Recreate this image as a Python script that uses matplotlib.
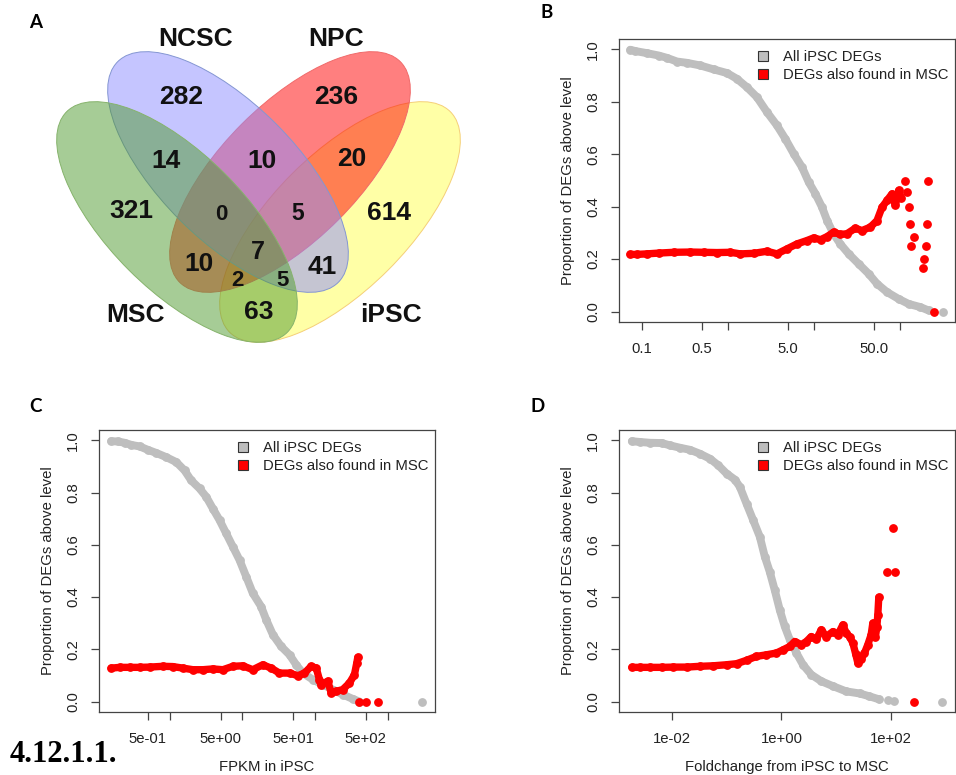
import matplotlib
matplotlib.use('Agg')
import matplotlib.pyplot as plt
from matplotlib.patches import Ellipse
from matplotlib.lines import Line2D
from matplotlib.colors import to_rgba
from matplotlib.ticker import FixedLocator, NullLocator

plt.rcParams['font.family'] = ['Liberation Sans', 'DejaVu Sans']

# ---- Panel A: Venn counts ----
set_names = ['NCSC', 'NPC', 'MSC', 'iPSC']
venn_counts = [282, 236, 14, 10, 20, 321, 0, 5, 614, 7, 10, 41, 2, 5, 63]

# ---- Panel B: (x values, proportion above level) ----
b_grey_x = [0.073, 0.0836, 0.114, 0.156, 0.195, 0.255, 0.333, 0.476, 0.681, 0.973, 1.27, 1.66,
            2.17, 2.84, 3.71, 4.64, 5.81, 7.25, 8.67, 10.4, 12.4, 14.2, 16.9, 20.2, 25.3, 33.0,
            43.2, 54.0, 70.7, 96.4, 126, 172, 215]
b_grey_y = [0.999, 0.994, 0.986, 0.977, 0.968, 0.954, 0.949, 0.939, 0.924, 0.910, 0.888, 0.856,
            0.818, 0.761, 0.710, 0.659, 0.602, 0.551, 0.494, 0.449, 0.398, 0.347, 0.296, 0.258,
            0.220, 0.182, 0.144, 0.106, 0.074, 0.048, 0.029, 0.017, 0.004]
b_grey_tail_x = [316]
b_grey_tail_y = [0.0]
b_red_x = [0.073, 0.0875, 0.114, 0.156, 0.233, 0.365, 0.521, 0.744, 1.06, 1.39, 1.99, 2.84,
           3.71, 4.85, 6.34, 8.29, 9.91, 11.9, 14.2, 16.9, 20.2, 24.2, 30.3, 36.1, 45.2, 54.0,
           61.8, 70.7, 80.7, 88.3, 96.4, 103]
b_red_y = [0.218, 0.218, 0.220, 0.223, 0.226, 0.227, 0.226, 0.225, 0.226, 0.220, 0.222, 0.230,
           0.220, 0.239, 0.258, 0.271, 0.281, 0.274, 0.286, 0.303, 0.294, 0.297, 0.318, 0.309,
           0.322, 0.347, 0.398, 0.424, 0.449, 0.405, 0.462, 0.435]
b_red_tail_x = [115, 121, 126, 132, 134, 144, 185, 192, 202, 206, 212, 246]
b_red_tail_y = [0.500, 0.455, 0.400, 0.335, 0.250, 0.286, 0.167, 0.200, 0.250, 0.335, 0.500, 0.0]

# ---- Panel C: FPKM in iPSC ----
c_grey_x = [0.156, 0.193, 0.239, 0.295, 0.384, 0.5, 0.652, 0.894, 1.23, 1.60, 1.97, 2.57, 3.18,
            3.92, 4.84, 5.98, 7.39, 9.13, 11.3, 13.9, 18.1, 21.3, 26.3, 34.2, 44.6, 55.0, 67.9,
            93.3, 128, 176, 241, 331, 409]
c_grey_y = [0.997, 0.996, 0.991, 0.983, 0.977, 0.964, 0.952, 0.936, 0.917, 0.885, 0.847, 0.816,
            0.784, 0.739, 0.695, 0.644, 0.593, 0.542, 0.478, 0.415, 0.364, 0.313, 0.256, 0.211,
            0.179, 0.141, 0.109, 0.084, 0.065, 0.046, 0.027, 0.010, 0.0]
c_grey_tail_x = [2980]
c_grey_tail_y = [0.0]
c_red_x = [0.156, 0.204, 0.280, 0.384, 0.527, 0.804, 1.10, 1.52, 2.08, 2.86, 3.92, 5.38, 7.39,
           10.1, 13.9, 19.1, 24.9, 32.4, 44.6, 58.0, 71.6, 88.5, 104, 115, 121, 150, 167, 195,
           241, 298, 349, 376, 388]
c_red_y = [0.128, 0.131, 0.131, 0.131, 0.132, 0.135, 0.134, 0.128, 0.122, 0.122, 0.125, 0.122,
           0.135, 0.137, 0.122, 0.141, 0.128, 0.109, 0.109, 0.099, 0.109, 0.135, 0.128, 0.084,
           0.065, 0.078, 0.033, 0.039, 0.046, 0.071, 0.103, 0.148, 0.169]
c_red_tail_x = [409, 505, 731]
c_red_tail_y = [0.0, 0.0, 0.0]

# ---- Panel D: foldchange from iPSC to MSC ----
d_grey_x = [0.00184, 0.00261, 0.00397, 0.00649, 0.0092, 0.0140, 0.0213, 0.0324, 0.0493, 0.0700,
            0.0993, 0.141, 0.174, 0.230, 0.304, 0.403, 0.497, 0.612, 0.755, 0.933, 1.15, 1.42,
            1.88, 2.48, 3.52, 5.36, 8.75, 15.3, 26.9, 40.8, 62.1]
d_grey_y = [0.997, 0.994, 0.991, 0.990, 0.981, 0.972, 0.964, 0.949, 0.930, 0.905, 0.873, 0.850,
            0.822, 0.758, 0.695, 0.631, 0.555, 0.497, 0.427, 0.351, 0.288, 0.237, 0.186, 0.141,
            0.103, 0.078, 0.059, 0.039, 0.031, 0.020, 0.008]
d_grey_tail_x = [88.1, 117, 863]
d_grey_tail_y = [0.005, 0.003, 0.0]
d_red_x = [0.00184, 0.00261, 0.00397, 0.00649, 0.0106, 0.0185, 0.0324, 0.0567, 0.0993, 0.151,
           0.230, 0.350, 0.532, 0.811, 1.07, 1.42, 1.75, 2.32, 2.86, 3.52, 4.35, 5.36, 6.62,
           8.75, 10.8, 13.3, 15.3, 17.6, 20.3, 22.7, 25.0, 28.8, 33.1, 38.1, 43.8, 47.0, 52.5,
           55.6, 58.0, 60.4]
d_red_y = [0.131, 0.131, 0.131, 0.131, 0.132, 0.132, 0.135, 0.137, 0.141, 0.145, 0.158, 0.173,
           0.179, 0.186, 0.198, 0.211, 0.230, 0.218, 0.230, 0.249, 0.238, 0.275, 0.249, 0.268,
           0.256, 0.294, 0.262, 0.249, 0.224, 0.184, 0.148, 0.163, 0.186, 0.218, 0.256, 0.300,
           0.249, 0.285, 0.332, 0.399]
d_red_tail_x = [85.7, 122, 109, 270]
d_red_tail_y = [0.497, 0.497, 0.665, 0.0]

legend_labels = ['All iPSC DEGs', 'DEGs also found in MSC']
y_ticks = [0.0, 0.2, 0.4, 0.6, 0.8, 1.0]

GREY = '#bebebe'
RED = '#ff0000'
FS = 10.7


def drawCurvePanel(ax, gx, gy, gtx, gty, rx, ry, rtx, rty, xlim, ticks, labels, xlabel):
    ms = 5.3
    ax.plot(gx, gy, color=GREY, lw=ms + 0.4, marker='o', ms=ms, solid_capstyle='round',
            solid_joinstyle='round')
    ax.plot(gtx, gty, color=GREY, ls='none', marker='o', ms=ms)
    ax.plot(rx, ry, color=RED, lw=ms, marker='o', ms=ms, solid_capstyle='round',
            solid_joinstyle='round')
    ax.plot(rtx, rty, color=RED, ls='none', marker='o', ms=ms)
    ax.set_xscale('log')
    ax.set_xlim(xlim)
    ax.set_ylim(-0.04, 1.04)
    ax.xaxis.set_major_locator(FixedLocator(ticks))
    ax.xaxis.set_minor_locator(NullLocator())
    ax.set_xticklabels(labels)
    ax.set_yticks(y_ticks)
    ax.set_yticklabels(['%.1f' % v for v in y_ticks], rotation=90, va='center')
    for s in ax.spines.values():
        s.set_color('#444444')
        s.set_linewidth(0.9)
    ax.tick_params(axis='both', length=5.5, width=0.9, color='#444444', labelsize=FS,
                   labelcolor='#222222')
    ax.tick_params(axis='x', pad=9)
    ax.tick_params(axis='y', pad=8)
    ax.set_ylabel('Proportion of DEGs above level', fontsize=FS, color='#222222')
    ax.yaxis.set_label_coords(-0.13, 0.5)
    if xlabel:
        ax.set_xlabel(xlabel, fontsize=FS, color='#222222')
        ax.xaxis.set_label_coords(0.5, -0.17)
    handles = [Line2D([], [], ls='none', marker='s', ms=7.5, markerfacecolor=GREY,
                      markeredgecolor='#333333', markeredgewidth=0.8),
               Line2D([], [], ls='none', marker='s', ms=7.5, markerfacecolor=RED,
                      markeredgecolor='#333333', markeredgewidth=0.8)]
    leg = ax.legend(handles, legend_labels, loc='upper left', bbox_to_anchor=(0.4065, 0.962),
                    frameon=False, handlelength=1.0, handletextpad=0.84, borderaxespad=0,
                    borderpad=0, labelspacing=0.28, fontsize=FS)
    for t in leg.get_texts():
        t.set_color('#222222')


fig = plt.figure(figsize=(9.56, 7.75), dpi=100)

# overlay in pixel coordinates for the Venn diagram and panel letters
ov = fig.add_axes([0, 0, 1, 1])
ov.set_xlim(0, 956)
ov.set_ylim(775, 0)
ov.axis('off')

# ellipses: (center, angle, fill, alpha, edge), drawn yellow, red, blue, green
ellipses = [((340, 222), -45, '#ffff00', 0.35, '#f5cf78'),
            ((290, 172), -45, '#ff0000', 0.5, '#f06a6a'),
            ((228, 172), 45, '#8c8cff', 0.5, '#8496d2'),
            ((177, 222), 45, '#4f9a2f', 0.5, '#86b36c')]
for center, ang, fc, al, ec in ellipses:
    ov.add_patch(Ellipse(center, 312, 136, angle=ang, facecolor=to_rgba(fc, al),
                         edgecolor=ec, linewidth=0.7))

count_pos = [(181, 97), (336, 97), (166, 161), (262, 161), (352, 159), (131, 211), (221, 214),
             (298, 214), (389, 213), (258, 252), (199, 264), (322, 267), (237, 280), (283, 280),
             (259, 312)]
count_size = [19, 19, 19, 19, 19, 19, 16, 16.5, 19, 18, 19, 19, 16, 16, 19]
for (px, py), n, fs in zip(count_pos, venn_counts, count_size):
    ov.text(px, py, str(n), fontsize=fs, fontweight='bold', ha='center', va='center',
            color='#111111')

name_pos = [(196, 39), (336, 39), (136, 315), (391, 315)]
for (px, py), name in zip(name_pos, set_names):
    ov.text(px, py, name, fontsize=19, fontweight='bold', ha='center', va='center',
            color='#111111')

for (px, py), letter in zip([(36, 22), (547, 13), (36, 407), (538, 407)], 'ABCD'):
    ov.text(px, py, letter, fontsize=13.5, fontweight='bold', ha='center', va='center',
            family=['Lato', 'DejaVu Sans'])

ov.text(10, 762, '4.12.1.1.', fontsize=22, fontweight='bold', ha='left', va='baseline',
        family=['Liberation Serif', 'DejaVu Serif'])

axB = fig.add_axes([619 / 956, 1 - 322 / 775, 336 / 956, 283 / 775])
drawCurvePanel(axB, b_grey_x, b_grey_y, b_grey_tail_x, b_grey_tail_y,
               b_red_x, b_red_y, b_red_tail_x, b_red_tail_y,
               (0.054, 436), [0.1, 0.5, 1, 5, 10, 50, 100],
               ['0.1', '0.5', '', '5.0', '', '50.0', ''], None)

axC = fig.add_axes([99 / 956, 1 - 712 / 775, 336 / 956, 282 / 775])
drawCurvePanel(axC, c_grey_x, c_grey_y, c_grey_tail_x, c_grey_tail_y,
               c_red_x, c_red_y, c_red_tail_x, c_red_tail_y,
               (0.106, 4490), [0.5, 1, 5, 10, 50, 100, 500, 1000],
               ['5e-01', '', '5e+00', '', '5e+01', '', '5e+02', ''], 'FPKM in iPSC')

axD = fig.add_axes([619 / 956, 1 - 712 / 775, 336 / 956, 282 / 775])
drawCurvePanel(axD, d_grey_x, d_grey_y, d_grey_tail_x, d_grey_tail_y,
               d_red_x, d_red_y, d_red_tail_x, d_red_tail_y,
               (1.07e-3, 1497), [0.01, 1, 100],
               ['1e-02', '1e+00', '1e+02'], 'Foldchange from iPSC to MSC')

fig.savefig('out.png', dpi=100)
